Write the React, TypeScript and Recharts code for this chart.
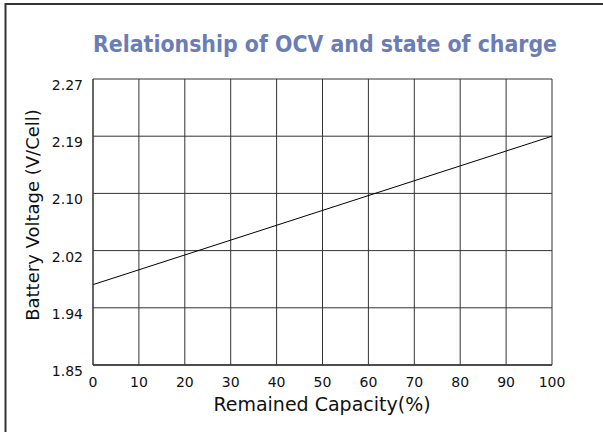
import { LineChart, Line, XAxis, YAxis, CartesianGrid, Label } from "recharts";

// values
const capacity = [0, 100];
const voltage = [1.968, 2.186];

const xTicks = [0, 10, 20, 30, 40, 50, 60, 70, 80, 90, 100];
// gridlines are evenly spaced, labels are rounded
const yTicks = [1.85, 1.934, 2.018, 2.102, 2.186, 2.27];
const yTickLabels = ["1.85", "1.94", "2.02", "2.10", "2.19", "2.27"];

const data = capacity.map((c, i) => ({ capacity: c, voltage: voltage[i] }));

const FONT = "'DejaVu Sans', Tahoma, sans-serif";

const YTick = (props: any) => {
  const { x, y, index } = props;
  return (
    <text x={x} y={y} dy={11} textAnchor="end" fontSize={14} fontFamily={FONT} fill="#111">
      {yTickLabels[index]}
    </text>
  );
};

const App = () => {
  return (
    <div style={{ position: "absolute", left: 0, top: 0, width: 603, height: 432, background: "#fff" }}>
      {/* frame + title */}
      <svg width={603} height={432} style={{ position: "absolute", left: 0, top: 0 }}>
        <line x1={5.5} y1={3} x2={5.5} y2={432} stroke="#333" strokeWidth={2} />
        <line x1={5} y1={4} x2={603} y2={4} stroke="#333" strokeWidth={2} />
        <text
          x={325}
          y={52}
          textAnchor="middle"
          fontSize={23}
          fontWeight="bold"
          fontFamily="'DejaVu Sans Condensed', 'DejaVu Sans', sans-serif"
          fill="#6a7db6"
          textLength={464}
          lengthAdjust="spacingAndGlyphs"
        >
          Relationship of OCV and state of charge
        </text>
      </svg>
      <div style={{ position: "absolute", left: 0, top: 0 }}>
        <LineChart width={603} height={432} data={data} margin={{ top: 79, right: 51, bottom: 0, left: 0 }}>
          <CartesianGrid stroke="#333" strokeWidth={1} />
          <XAxis
            dataKey="capacity"
            type="number"
            domain={[0, 100]}
            ticks={xTicks}
            interval={0}
            height={67}
            axisLine={{ stroke: "#333", strokeWidth: 1.5 }}
            tickLine={false}
            tickMargin={6}
            tick={{ fontSize: 14, fontFamily: FONT, fill: "#111" }}
          >
            <Label
              content={() => (
                <text x={322} y={411} textAnchor="middle" fontSize={19} fontFamily={FONT} fill="#111">
                  Remained Capacity(%)
                </text>
              )}
            />
          </XAxis>
          <YAxis
            type="number"
            domain={[1.85, 2.27]}
            ticks={yTicks}
            interval={0}
            width={93}
            axisLine={{ stroke: "#333", strokeWidth: 1 }}
            tickLine={false}
            tickMargin={4}
            tick={<YTick />}
          >
            <Label
              content={() => (
                <text
                  x={32}
                  y={215}
                  transform="rotate(-90 32 215)"
                  textAnchor="middle"
                  dominantBaseline="central"
                  fontSize={18}
                  fontFamily={FONT}
                  fill="#111"
                >
                  Battery Voltage (V/Cell)
                </text>
              )}
            />
          </YAxis>
          <Line
            type="linear"
            dataKey="voltage"
            stroke="#000"
            strokeWidth={1}
            dot={false}
            isAnimationActive={false}
          />
        </LineChart>
      </div>
    </div>
  );
};

export default App;
